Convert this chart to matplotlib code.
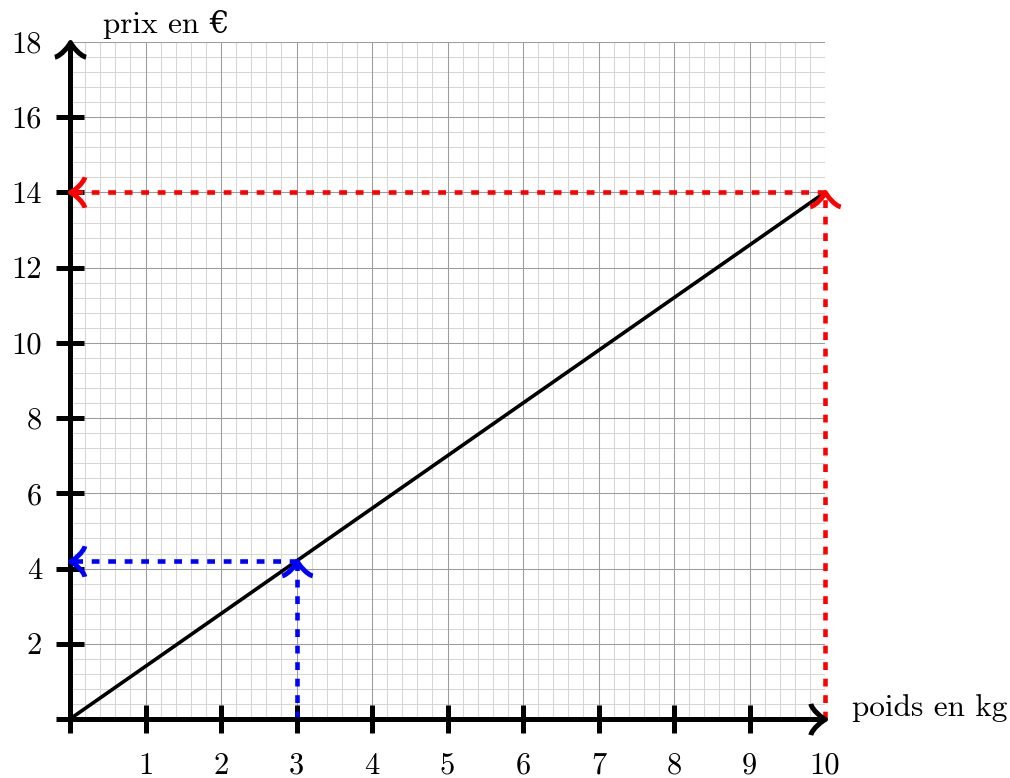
import matplotlib
matplotlib.use('Agg')
import matplotlib.pyplot as plt
import numpy as np
from matplotlib.path import Path
from matplotlib.markers import MarkerStyle
from matplotlib.transforms import Affine2D

plt.rcParams['font.family'] = ['cmr10', 'DejaVu Serif']
plt.rcParams['font.size'] = 22
plt.rcParams['axes.unicode_minus'] = False

# ---- data ----
x_max = 10
y_max = 18
x_ticks = list(range(0, 11))
y_ticks = list(range(0, 19, 2))
x_labels = ['' if v == 0 else str(v) for v in x_ticks]
y_labels = ['' if v == 0 else str(v) for v in y_ticks]
x_minor_step = 0.2
y_minor_step = 0.4

line_weight = [0, 10]
line_price = [0, 14]

blue_weight = 3
blue_price = 4.2
red_weight = 10
red_price = 14

x_title = 'poids en kg'
y_title = 'prix en €'

# ---- figure ----
W, H = 1010, 778
fig = plt.figure(figsize=(W / 100, H / 100), dpi=100)
ax = fig.add_axes([70 / W, (H - 719) / H, 755 / W, 677 / H])
ax.set_xlim(0, x_max)
ax.set_ylim(0, y_max)
for s in ax.spines.values():
    s.set_visible(False)

# grid
ax.vlines(np.arange(0, x_max + 1e-9, x_minor_step), 0, y_max, color='#d6d6d6', lw=0.75, zorder=0)
ax.hlines(np.arange(0, y_max + 1e-9, y_minor_step), 0, x_max, color='#d6d6d6', lw=0.75, zorder=0)
ax.vlines(x_ticks, 0, y_max, color='#9c9c9c', lw=0.75, zorder=0.5)
ax.hlines(y_ticks, 0, x_max, color='#9c9c9c', lw=0.75, zorder=0.5)

# TikZ-like "to" arrow head
tip_verts = [(-3.75, 4), (-3.5, 2.5), (-0.75, 0.25), (0, 0),
             (-0.75, -0.25), (-3.5, -2.5), (-3.75, -4)]
tip_codes = [Path.MOVETO] + [Path.CURVE4] * 6
to_path = Path(tip_verts, tip_codes)


def arrow_marker(angle):
    return MarkerStyle(to_path, fillstyle='none', transform=Affine2D().rotate_deg(angle))


def head(x, y, angle, color, ms=21.6, mew=3.0, z=6):
    ax.plot([x], [y], marker=arrow_marker(angle), ms=ms, mfc='none', mec=color,
            mew=mew, clip_on=False, zorder=z, linestyle='none')


# axes lines
ax.plot([0, x_max], [0, 0], color='k', lw=3.6, solid_capstyle='butt', clip_on=False, zorder=5)
ax.plot([0, 0], [0, y_max], color='k', lw=3.6, solid_capstyle='butt', clip_on=False, zorder=5)
head(x_max, 0, 0, 'k', ms=22.5, mew=3.6)
head(0, y_max, 90, 'k', ms=22.5, mew=3.6)

# ticks
ax.set_xticks(x_ticks, x_labels)
ax.set_yticks(y_ticks, y_labels)
ax.tick_params(axis='both', direction='inout', length=20, width=3.6, color='k')
ax.tick_params(axis='x', pad=14)
ax.tick_params(axis='y', pad=10)
ax.xaxis.get_major_ticks()[-1].tick1line.set_visible(False)
ax.yaxis.get_major_ticks()[-1].tick1line.set_visible(False)

# main line
ax.plot(line_weight, line_price, color='k', lw=2.6, zorder=3, solid_capstyle='butt')

# reading lines
dash = (0, (1.7, 1.9))
for (xw, yp, col) in [(blue_weight, blue_price, 'blue'), (red_weight, red_price, 'red')]:
    ax.plot([xw, xw], [0, yp], color=col, lw=3.3, ls=dash, dash_capstyle='butt',
            clip_on=False, zorder=4)
    ax.plot([xw, 0], [yp, yp], color=col, lw=3.3, ls=dash, dash_capstyle='butt',
            clip_on=False, zorder=4)
    head(xw, yp, 90, col, ms=22, mew=3.5, z=7)
    head(0, yp, 180, col, ms=22, mew=3.5, z=7)

# axis titles
ax.annotate(y_title, xy=(0, y_max), xytext=(33, 9), textcoords='offset pixels',
            ha='left', va='baseline', annotation_clip=False, fontsize=22.5)
ax.annotate(x_title, xy=(x_max, 0), xytext=(27, 3), textcoords='offset pixels',
            ha='left', va='baseline', annotation_clip=False, fontsize=22.5)

fig.savefig('out.png', dpi=100)
